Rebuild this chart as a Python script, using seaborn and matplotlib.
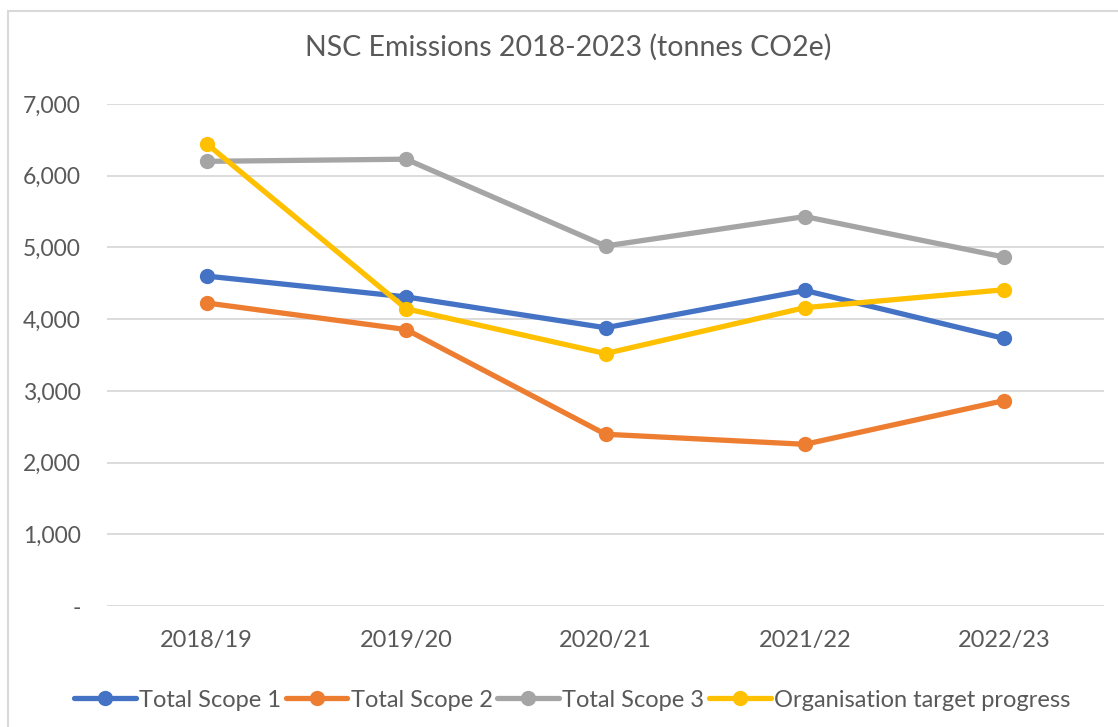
import pandas as pd
import matplotlib.pyplot as plt
import matplotlib.ticker as mticker
from matplotlib.lines import Line2D
import seaborn as sns

# Data
years = ['2018/19', '2019/20', '2020/21', '2021/22', '2022/23']
scope1 = [4600, 4310, 3880, 4400, 3730]
scope2 = [4225, 3855, 2395, 2255, 2865]
scope3 = [6200, 6230, 5020, 5430, 4865]
target = [6445, 4145, 3520, 4160, 4410]
series_names = ['Total Scope 1', 'Total Scope 2', 'Total Scope 3', 'Organisation target progress']
colors = ['#4472C4', '#ED7D31', '#A5A5A5', '#FFC000']

df = pd.DataFrame({
    'year': years * 4,
    'value': scope1 + scope2 + scope3 + target,
    'series': [s for s in series_names for _ in years],
})

sns.set_style('white')
plt.rcParams['font.family'] = ['Lato', 'DejaVu Sans']
text_col = '#595959'

fig = plt.figure(figsize=(11.18, 7.27), dpi=100)
ax = fig.add_axes([0.0957, 0.1664, 0.8918, 0.6906])

sns.lineplot(data=df, x='year', y='value', hue='series', palette=colors,
             marker='o', markersize=11, markeredgewidth=0, linewidth=3.8,
             sort=False, ax=ax, legend=False)

ax.set_xlim(-0.5, 4.5)
ax.set_ylim(0, 7000)
ax.yaxis.set_major_locator(mticker.MultipleLocator(1000))
ax.yaxis.set_major_formatter(mticker.FuncFormatter(lambda v, p: '-' if v == 0 else f'{int(v):,}'))
ax.grid(axis='y', color='#D9D9D9', linewidth=1.3)
ax.set_axisbelow(True)
for s in ax.spines.values():
    s.set_visible(False)
ax.tick_params(axis='both', length=0, colors=text_col)
ax.tick_params(axis='y', labelsize=16.5, pad=19)
ax.tick_params(axis='x', labelsize=17, pad=17)
ax.set_xlabel('')
ax.set_ylabel('')

fig.text(0.508, 0.935, 'NSC Emissions 2018-2023 (tonnes CO2e)', ha='center', va='center',
         fontsize=20.5, color=text_col)

handles = [Line2D([0], [0], color=c, linewidth=3.8, marker='o', markersize=11,
                  markeredgewidth=0) for c in colors]
fig.legend(handles, series_names, loc='center', bbox_to_anchor=(0.512, 0.037), ncol=4,
           frameon=False, fontsize=17, labelcolor=text_col, handlelength=2.6,
           handletextpad=0.15, columnspacing=0.2)

# chart border (top and left visible in the reference)
fig.add_artist(Line2D([8 / 1118, 8 / 1118], [0, 1 - 11 / 727], color='#D9D9D9', linewidth=1.5,
                      transform=fig.transFigure))
fig.add_artist(Line2D([8 / 1118, 1], [1 - 11 / 727, 1 - 11 / 727], color='#D9D9D9', linewidth=1.5,
                      transform=fig.transFigure))

fig.savefig('out.png', dpi=100)
